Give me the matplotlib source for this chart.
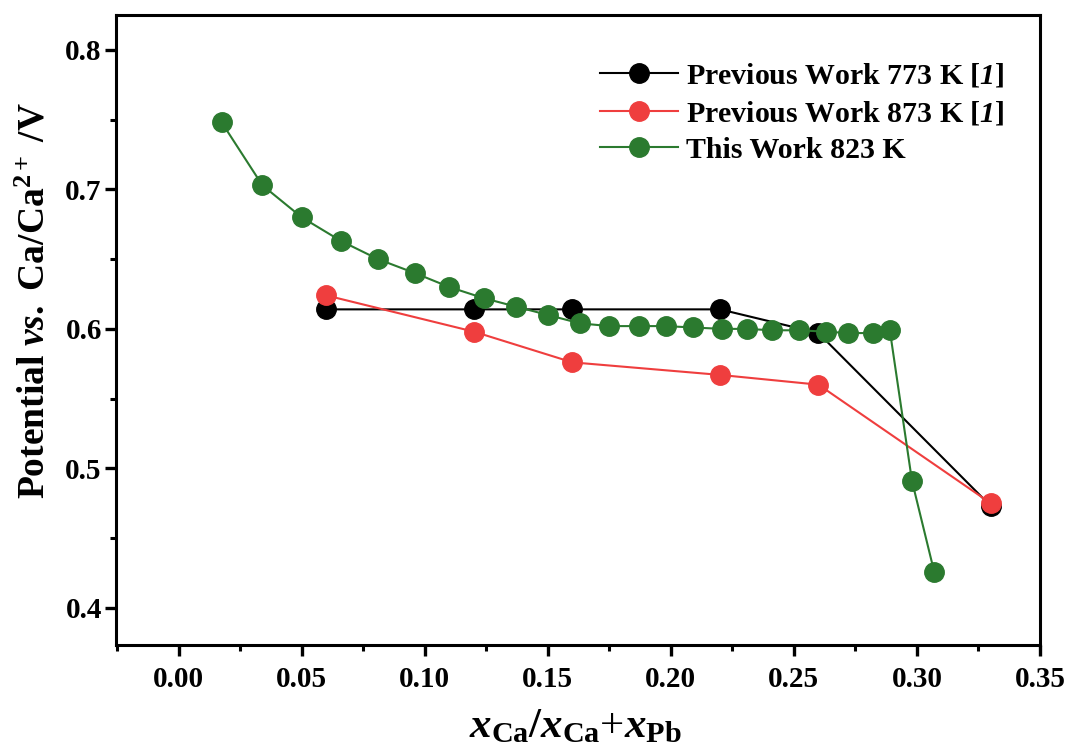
import matplotlib.pyplot as plt
from matplotlib.ticker import MultipleLocator

plt.rcParams['font.family'] = ['Liberation Serif', 'DejaVu Serif']
plt.rcParams['font.weight'] = 'bold'
plt.rcParams['mathtext.fontset'] = 'custom'
plt.rcParams['mathtext.rm'] = 'Liberation Serif:bold'
plt.rcParams['mathtext.it'] = 'Liberation Serif:italic:bold'
# bf slot used for italic digits (mathit turns digits upright)
plt.rcParams['mathtext.bf'] = 'Liberation Serif:italic:bold'

# previous work 773 K
x_773 = [0.06, 0.12, 0.16, 0.22, 0.26, 0.33]
y_773 = [0.614, 0.614, 0.614, 0.614, 0.597, 0.473]

# previous work 873 K
x_873 = [0.06, 0.12, 0.16, 0.22, 0.26, 0.33]
y_873 = [0.624, 0.598, 0.576, 0.567, 0.560, 0.475]

# this work 823 K
x_823 = [0.0175, 0.034, 0.050, 0.066, 0.081, 0.096, 0.110, 0.124, 0.137,
         0.150, 0.163, 0.175, 0.187, 0.198, 0.209, 0.221, 0.231, 0.241,
         0.252, 0.263, 0.272, 0.282, 0.289, 0.298, 0.307]
y_823 = [0.748, 0.703, 0.680, 0.663, 0.650, 0.640, 0.630, 0.622, 0.616,
         0.610, 0.604, 0.602, 0.602, 0.602, 0.601, 0.600, 0.600, 0.599,
         0.599, 0.598, 0.597, 0.597, 0.599, 0.491, 0.426]

fig = plt.figure(figsize=(10.71, 7.55), dpi=100)
ax = fig.add_axes([0.108, 0.146, 0.863, 0.834])

ms = 14
ax.plot(x_773, y_773, color='black', lw=1.5, marker='o', ms=ms,
        label='Previous Work 773 K [$\\mathbf{1}$]')
ax.plot(x_873, y_873, color='#EF3E3E', lw=1.5, marker='o', ms=ms,
        label='Previous Work 873 K [$\\mathbf{1}$]')
ax.plot(x_823, y_823, color='#2B7A2F', lw=1.5, marker='o', ms=ms,
        label='This Work 823 K')

ax.set_xlim(-0.0256, 0.35)
ax.set_ylim(0.3735, 0.825)
ax.xaxis.set_major_locator(MultipleLocator(0.05))
ax.xaxis.set_minor_locator(MultipleLocator(0.025))
ax.yaxis.set_major_locator(MultipleLocator(0.1))
ax.yaxis.set_minor_locator(MultipleLocator(0.05))
ax.xaxis.set_major_formatter(plt.FormatStrFormatter('%.2f'))
ax.yaxis.set_major_formatter(plt.FormatStrFormatter('%.1f'))

for s in ax.spines.values():
    s.set_linewidth(2.2)
ax.tick_params(which='major', direction='out', length=8, width=2.4)
ax.tick_params(which='minor', direction='out', length=4, width=2.2)
ax.tick_params(axis='x', which='major', labelsize=21, pad=7)
ax.tick_params(axis='y', which='major', labelsize=21, pad=2)
for lab in ax.get_xticklabels() + ax.get_yticklabels():
    lab.set_fontweight('bold')

ax.set_xlabel('$x_{\\mathrm{Ca}}/x_{\\mathrm{Ca}}$+$x_{\\mathrm{Pb}}$',
              fontsize=31)
ax.xaxis.set_label_coords(0.497, -0.1)
ax.set_ylabel('Potential $\\mathit{vs.}$ Ca/Ca$^{2+}$ /V', fontsize=27,
              fontweight='bold')
ax.yaxis.set_label_coords(-0.068, 0.547)

ax.legend(loc='upper right', bbox_to_anchor=(0.974, 0.945), frameon=False,
          handlelength=2.6, borderaxespad=0, labelspacing=0.32,
          handletextpad=0.25, prop={'weight': 'bold', 'size': 21.5})

fig.savefig('out.png', dpi=100)
